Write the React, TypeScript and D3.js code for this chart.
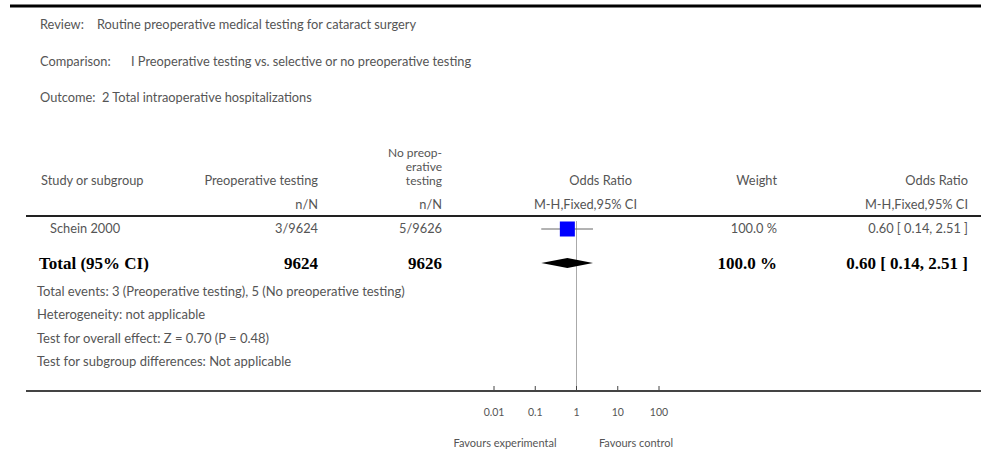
import React from 'react'
import * as d3 from 'd3'

// study rows
const studies = ['Schein 2000']
const eventsExp = [3]
const totalExp = [9624]
const eventsCtl = [5]
const totalCtl = [9626]
const oddsRatio = [0.6]
const ciLow = [0.14]
const ciHigh = [2.51]
const weights = [100.0]

// pooled
const pooled = { or: 0.6, lo: 0.14, hi: 2.51 }

const axisTicks = [0.01, 0.1, 1, 10, 100]
const tickLabels = ['0.01', '0.1', '1', '10', '100']

const headerLines = [
    ['Review:', 'Routine preoperative medical testing for cataract surgery'],
    ['Comparison:', 'I Preoperative testing vs. selective or no preoperative testing'],
    ['Outcome:', '2 Total intraoperative hospitalizations'],
]

const footnotes = [
    'Total events: 3 (Preoperative testing), 5 (No preoperative testing)',
    'Heterogeneity: not applicable',
    'Test for overall effect: Z = 0.70 (P = 0.48)',
    'Test for subgroup differences: Not applicable',
]

const W = 981
const H = 473
const sans = 'Lato, "Open Sans", sans-serif'
const serif = '"Liberation Serif", "DejaVu Serif", serif'
const grey = '#555'
const fs = 12.8

const App: React.FC = () => {
    const x = d3.scaleLog().domain([0.01, 100]).range([494, 659])
    const rowY = [229]
    const totalY = 263
    const axisY = 391

    const fmt = d3.format('.2f')
    const diamond = [
        [x(pooled.lo), totalY],
        [x(pooled.or), totalY - 5],
        [x(pooled.hi), totalY],
        [x(pooled.or), totalY + 5],
    ]
    const valueX: Record<string, number> = { 'Review:': 97, 'Comparison:': 131, 'Outcome:': 102 }

    return (
        <div style={{ position: 'absolute', left: 0, top: 0 }}>
            <svg width={W} height={H} style={{ background: '#fff', display: 'block' }}>
                <line x1={10} x2={W} y1={6} y2={6} stroke="#000" strokeWidth={3} />

                {headerLines.map(([k, v], i) => (
                    <g key={k} fontFamily={sans} fontSize={fs} fill={grey}>
                        <text x={40} y={29 + i * 36.5}>{k}</text>
                        <text x={valueX[k]} y={29 + i * 36.5}>{v}</text>
                    </g>
                ))}

                {/* column headers */}
                <g fontFamily={sans} fontSize={fs} fill={grey}>
                    <text x={41} y={185}>Study or subgroup</text>
                    <text x={318} y={185} textAnchor="end">Preoperative testing</text>
                    <text x={318} y={209} textAnchor="end">n/N</text>
                    <text x={442} y={209} textAnchor="end">n/N</text>
                    <text x={632} y={185} textAnchor="end">Odds Ratio</text>
                    <text x={637} y={209} textAnchor="end">M-H,Fixed,95% CI</text>
                    <text x={777} y={185} textAnchor="end">Weight</text>
                    <text x={968} y={185} textAnchor="end">Odds Ratio</text>
                    <text x={968} y={209} textAnchor="end">M-H,Fixed,95% CI</text>
                </g>
                <g fontFamily={sans} fontSize={12} fill={grey} textAnchor="end">
                    <text x={442} y={157}>No preop-</text>
                    <text x={442} y={171}>erative</text>
                    <text x={442} y={185}>testing</text>
                </g>
                <line x1={26} x2={W} y1={216} y2={216} stroke="#222" strokeWidth={2} />

                {/* null line */}
                <line x1={x(1)} x2={x(1)} y1={221} y2={axisY} stroke="#aaa" strokeWidth={1} />

                {studies.map((s, i) => {
                    const y = rowY[i]
                    const size = 15 * Math.sqrt(weights[i] / 100)
                    return (
                        <g key={s}>
                            <g fontFamily={sans} fontSize={fs} fill={grey}>
                                <text x={50} y={y + 4}>{s}</text>
                                <text x={318} y={y + 4} textAnchor="end">{`${eventsExp[i]}/${totalExp[i]}`}</text>
                                <text x={442} y={y + 4} textAnchor="end">{`${eventsCtl[i]}/${totalCtl[i]}`}</text>
                                <text x={777} y={y + 4} textAnchor="end">{`${weights[i].toFixed(1)} %`}</text>
                                <text x={968} y={y + 4} textAnchor="end">
                                    {`${fmt(oddsRatio[i])} [ ${fmt(ciLow[i])}, ${fmt(ciHigh[i])} ]`}
                                </text>
                            </g>
                            <line x1={x(ciLow[i])} x2={x(ciHigh[i])} y1={y} y2={y} stroke="#666" strokeWidth={1} />
                            <rect
                                x={x(oddsRatio[i]) - size / 2}
                                y={y - size / 2}
                                width={size}
                                height={size}
                                fill="#0000ff"
                            />
                        </g>
                    )
                })}

                {/* total row */}
                <g fontFamily={serif} fontSize={17} fontWeight="bold" fill="#000">
                    <text x={39} y={totalY + 6}>Total (95% CI)</text>
                    <text x={318} y={totalY + 6} textAnchor="end">{d3.sum(totalExp)}</text>
                    <text x={442} y={totalY + 6} textAnchor="end">{d3.sum(totalCtl)}</text>
                    <text x={777} y={totalY + 6} textAnchor="end">{`${d3.sum(weights).toFixed(1)} %`}</text>
                    <text x={968} y={totalY + 6} textAnchor="end">
                        {`${fmt(pooled.or)} [ ${fmt(pooled.lo)}, ${fmt(pooled.hi)} ]`}
                    </text>
                </g>
                <polygon points={diamond.map((p) => p.join(',')).join(' ')} fill="#000" />

                {footnotes.map((f, i) => (
                    <text key={f} x={37} y={296 + i * 23.3} fontFamily={sans} fontSize={13} fill={grey}>
                        {f}
                    </text>
                ))}

                {/* axis */}
                <line x1={26} x2={W} y1={axisY} y2={axisY} stroke="#444" strokeWidth={2} />
                {axisTicks.map((t, i) => (
                    <g key={t}>
                        <line x1={x(t)} x2={x(t)} y1={axisY - 5} y2={axisY} stroke="#444" strokeWidth={1} />
                        <text x={x(t)} y={axisY + 25} textAnchor="middle" fontFamily={sans} fontSize={10.5} fill={grey}>
                            {tickLabels[i]}
                        </text>
                    </g>
                ))}
                <text x={505} y={axisY + 56} textAnchor="middle" fontFamily={sans} fontSize={11} fill={grey}>
                    Favours experimental
                </text>
                <text x={636} y={axisY + 56} textAnchor="middle" fontFamily={sans} fontSize={11} fill={grey}>
                    Favours control
                </text>
            </svg>
        </div>
    )
}

export default App
